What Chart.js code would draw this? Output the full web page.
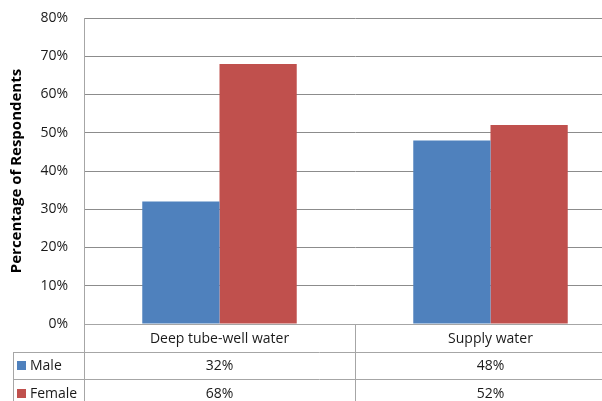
<!DOCTYPE html>
<html>
<head>
<meta charset="utf-8">
<script src="https://cdn.jsdelivr.net/npm/chart.js@4"></script>
<style>
  html, body { margin: 0; padding: 0; background: #fff; overflow: hidden; }
  #wrap { width: 630px; height: 401px; }
</style>
</head>
<body>
<div id="wrap"><canvas id="waterChart"></canvas></div>
<script>
// Chart data
const categories = ["Deep tube-well water", "Supply water"];
const seriesNames = ["Male", "Female"];
const maleValues = [32, 48];
const femaleValues = [68, 52];
const seriesColors = ["#4F81BD", "#C0504D"];
const yTicks = [0, 10, 20, 30, 40, 50, 60, 70, 80];

const FONT = "'Open Sans', 'Liberation Sans', sans-serif";
const TEXT = "#1a1a1a";
const LINE = "#a6a6a6";

// Data table under the plot, aligned to the category scale
const dataTablePlugin = {
    id: "dataTable",
    afterDraw(chart) {
        const ctx = chart.ctx;
        const x = chart.scales.x;
        const area = chart.chartArea;
        const rowH = 27.5;
        const tableLeft = 13;
        const bottom = chart.height;
        const half = (x.getPixelForValue(1) - x.getPixelForValue(0)) / 2;

        ctx.save();
        ctx.strokeStyle = LINE;
        ctx.lineWidth = 1;
        ctx.beginPath();
        // horizontal rules
        for (let r = 1; r <= seriesNames.length; r++) {
            const y = Math.round(area.bottom + rowH * r) + 0.5;
            ctx.moveTo(tableLeft, y);
            ctx.lineTo(area.right, y);
        }
        // vertical rules
        ctx.moveTo(tableLeft + 0.5, Math.round(area.bottom + rowH) + 0.5);
        ctx.lineTo(tableLeft + 0.5, bottom);
        ctx.moveTo(Math.round(area.left) + 0.5, area.bottom);
        ctx.lineTo(Math.round(area.left) + 0.5, bottom);
        categories.forEach((c, i) => {
            const xb = Math.round(x.getPixelForValue(i) + half) + 0.5;
            ctx.moveTo(xb, area.bottom);
            ctx.lineTo(xb, bottom);
        });
        ctx.stroke();

        ctx.font = "14px " + FONT;
        ctx.fillStyle = TEXT;
        ctx.textAlign = "center";
        ctx.textBaseline = "middle";
        categories.forEach((c, i) => {
            ctx.fillText(c, x.getPixelForValue(i), area.bottom + rowH / 2 + 1);
        });

        const rows = [maleValues, femaleValues];
        rows.forEach((vals, r) => {
            const yc = area.bottom + rowH * (r + 1) + rowH / 2 + 1;
            ctx.fillStyle = seriesColors[r];
            ctx.fillRect(17, Math.round(yc) - 5, 9, 9);
            ctx.fillStyle = TEXT;
            ctx.textAlign = "left";
            ctx.fillText(seriesNames[r], 30, yc);
            ctx.textAlign = "center";
            vals.forEach((v, i) => {
                ctx.fillText(v + "%", x.getPixelForValue(i), yc);
            });
        });
        ctx.restore();
    }
};

new Chart(document.getElementById("waterChart"), {
    type: "bar",
    data: {
        labels: categories,
        datasets: [
            { label: seriesNames[0], data: maleValues, backgroundColor: seriesColors[0] },
            { label: seriesNames[1], data: femaleValues, backgroundColor: seriesColors[1] }
        ]
    },
    options: {
        responsive: true,
        maintainAspectRatio: false,
        animation: false,
        categoryPercentage: 0.57,
        barPercentage: 1,
        layout: { padding: { top: 18, right: 4, bottom: 77, left: 0 } },
        plugins: {
            legend: { display: false },
            tooltip: { enabled: false }
        },
        scales: {
            x: {
                grid: { display: false },
                border: { color: LINE },
                ticks: { display: false },
                afterFit(scale) { scale.height = 0; }
            },
            y: {
                min: 0,
                max: 80,
                afterBuildTicks(scale) { scale.ticks = yTicks.map(v => ({ value: v })); },
                ticks: {
                    color: TEXT,
                    font: { family: FONT, size: 14 },
                    padding: 16,
                    callback: v => v + "%"
                },
                grid: { color: "#8c8c8c", drawTicks: false },
                border: { color: LINE },
                title: {
                    display: true,
                    text: "Percentage of Respondents",
                    color: "#000",
                    font: { family: FONT, size: 15, weight: "bold" },
                    padding: { top: 8, bottom: 0 }
                },
                afterFit(scale) {
                    scale.width = 84;
                    scale.paddingTop = 0;
                    scale.paddingBottom = 0;
                }
            }
        }
    },
    plugins: [dataTablePlugin]
});
</script>
</body>
</html>
